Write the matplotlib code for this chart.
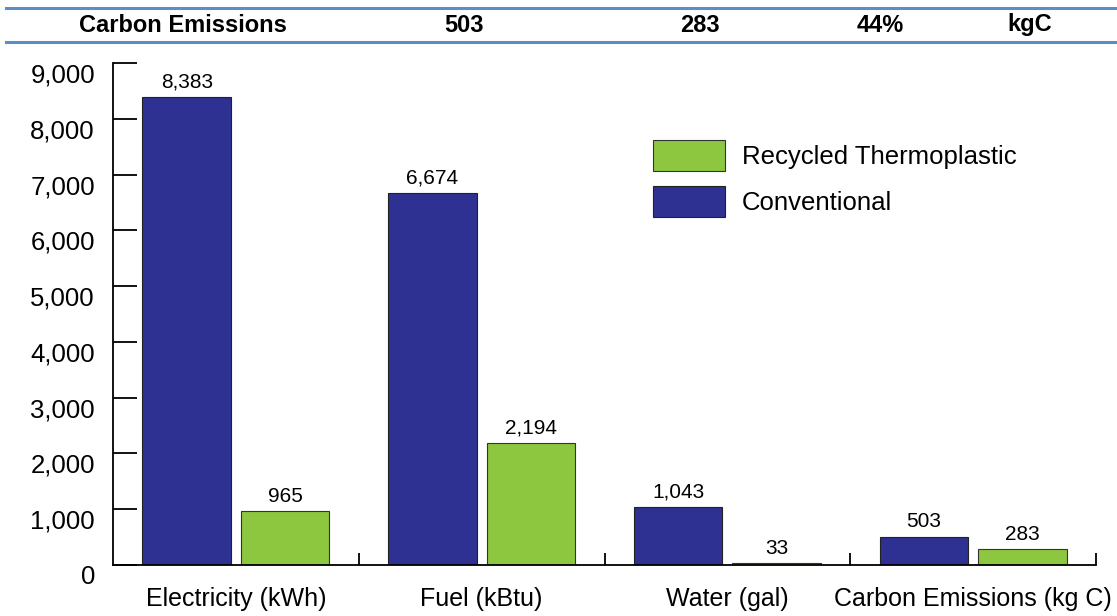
import numpy as np
import matplotlib
matplotlib.use("Agg")
import matplotlib.pyplot as plt
from matplotlib.patches import Patch
from matplotlib.lines import Line2D
from matplotlib.ticker import FuncFormatter
import matplotlib.transforms as mtransforms

plt.rcParams['font.family'] = ['Liberation Sans', 'DejaVu Sans']

categories = ["Electricity (kWh)", "Fuel (kBtu)", "Water (gal)", "Carbon Emissions (kg C)"]
conventional = [8383, 6674, 1043, 503]
recycled = [965, 2194, 33, 283]
header = ["Carbon Emissions", "503", "283", "44%", "kgC"]
header_x = [183, 464, 700, 880, 1030]

BLUE = "#2e3192"
GREEN = "#8dc63f"
RULE = "#5b8dc9"

W, H = 1117, 616
fig = plt.figure(figsize=(W / 100, H / 100), dpi=100)

# header strip with two rules
for yy in (8, 42):
    fig.add_artist(Line2D([6 / W, 1], [1 - yy / H] * 2, color=RULE, lw=2.2,
                          transform=fig.transFigure))
for lab, hx in zip(header, header_x):
    fig.text(hx / W, 1 - 25 / H, lab, ha="center", va="center", fontsize=17,
             fontweight="bold")

ax = fig.add_axes([113 / W, 51 / H, 983 / W, 502 / H])

x = np.arange(len(categories))
b1 = ax.bar(x - 0.2, conventional, 0.36, color=BLUE, edgecolor="#222222", linewidth=0.8)
b2 = ax.bar(x + 0.2, recycled, 0.36, color=GREEN, edgecolor="#333333", linewidth=0.8)

for bars, vals in ((b1, conventional), (b2, recycled)):
    for r, v in zip(bars, vals):
        ax.annotate(f"{v:,}", (r.get_x() + r.get_width() / 2, v), xytext=(0, 4),
                    textcoords="offset points", ha="center", va="bottom", fontsize=15)

ax.set_xlim(-0.5, 3.5)
ax.set_ylim(0, 9000)
ax.set_yticks(np.arange(0, 9001, 1000))
ax.yaxis.set_major_formatter(FuncFormatter(lambda v, p: f"{int(v):,}"))
ax.tick_params(axis="y", direction="in", length=17, width=1.3, pad=13, labelsize=18.5)
ax.set_xticks(x)
ax.set_xticklabels(categories)
ax.set_xticks(x + 0.5, minor=True)
ax.tick_params(axis="x", which="major", length=0, pad=16, labelsize=18)
ax.tick_params(axis="x", which="minor", direction="in", length=9, width=1.3)

# y labels sit a little below their ticks
shift = mtransforms.ScaledTranslation(0, -10 / 100, fig.dpi_scale_trans)
for t in ax.get_yticklabels():
    t.set_transform(t.get_transform() + shift)

for s in ("top", "right"):
    ax.spines[s].set_visible(False)
for s in ("left", "bottom"):
    ax.spines[s].set_linewidth(1.3)

handles = [Patch(facecolor=GREEN, edgecolor="#333333", linewidth=0.8, label="Recycled Thermoplastic"),
           Patch(facecolor=BLUE, edgecolor="#222222", linewidth=0.8, label="Conventional")]
ax.legend(handles=handles, loc="upper left", bbox_to_anchor=(653 / W, 1 - 140 / H),
          bbox_transform=fig.transFigure, frameon=False, fontsize=18.5,
          handlelength=2.8, handleheight=1.45, labelspacing=0.62, handletextpad=0.66,
          borderpad=0, borderaxespad=0)

fig.savefig("out.png", dpi=100)
